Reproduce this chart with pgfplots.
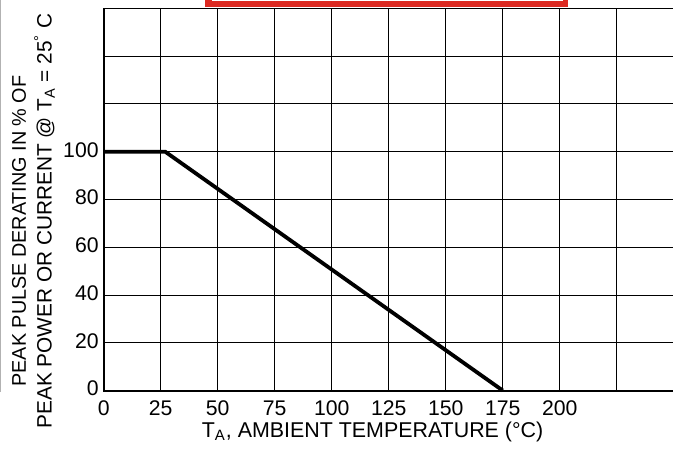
\documentclass[border=0pt]{standalone}
\usepackage{fontspec}
\setmainfont{Liberation Sans}
\usepackage{pgfplots}
\pgfplotsset{compat=1.18}
\definecolor{bannerred}{HTML}{DD2A22}
\begin{document}
\begin{tikzpicture}
% crop to the reference frame (1px = 0.5pt, axis origin at (0,0))
\useasboundingbox (-51.85pt,-29.25pt) rectangle (284.65pt,195.25pt);
\clip (-51.85pt,-29.25pt) rectangle (284.65pt,195.25pt);
\begin{axis}[
    scale only axis,
    width=285pt, height=191pt,
    xmin=0, xmax=250,
    ymin=0, ymax=160,
    xtick={0,25,...,250},
    xticklabels={0,25,50,75,100,125,150,175,200,{},{}},
    ytick={0,20,...,160},
    yticklabels={0,20,40,60,80,100,{},{},{}},
    grid=major,
    major grid style={black, line width=0.5pt},
    major tick length=0pt,
    axis line style={line width=0.5pt},
    tick label style={font=\fontsize{10.6}{12}\selectfont},
    xticklabel style={anchor=base, yshift=-12.5pt},
    yticklabel style={anchor=east, inner sep=0pt, xshift=-2.35pt, yshift=1pt},
    clip=false,
]
\addplot[black, line width=1.9pt] coordinates {(0,100) (27,100) (175,0)};
\draw[line width=1pt] (rel axis cs:0,1) -- (rel axis cs:0,0) -- (rel axis cs:1,0);
\end{axis}
% labels
\node[rotate=90, anchor=base, font=\fontsize{9.9}{12}\selectfont]
    at (-38.85pt,79.75pt) {PEAK PULSE DERATING IN \% OF};
\node[rotate=90, anchor=base, font=\fontsize{10.4}{12}\selectfont]
    at (-26pt,84.75pt) {PEAK POWER OR CURRENT @ T\textsubscript{A} = 25\textsuperscript{°} C};
\node[anchor=base, font=\fontsize{10.7}{12}\selectfont]
    at (134.4pt,-23.5pt) {T\textsubscript{A}, AMBIENT TEMPERATURE (°C)};
% cropped banner at the top and scan edge on the left
\fill[bannerred] (50.65pt,195.5pt) rectangle (232.15pt,191.6pt);
\fill[white] (54.15pt,195.5pt) rectangle (229.65pt,194.6pt);
\draw[gray!60, line width=0.5pt] (-51.35pt,195.5pt) -- (-51.35pt,-0.75pt);
\end{tikzpicture}
\end{document}
